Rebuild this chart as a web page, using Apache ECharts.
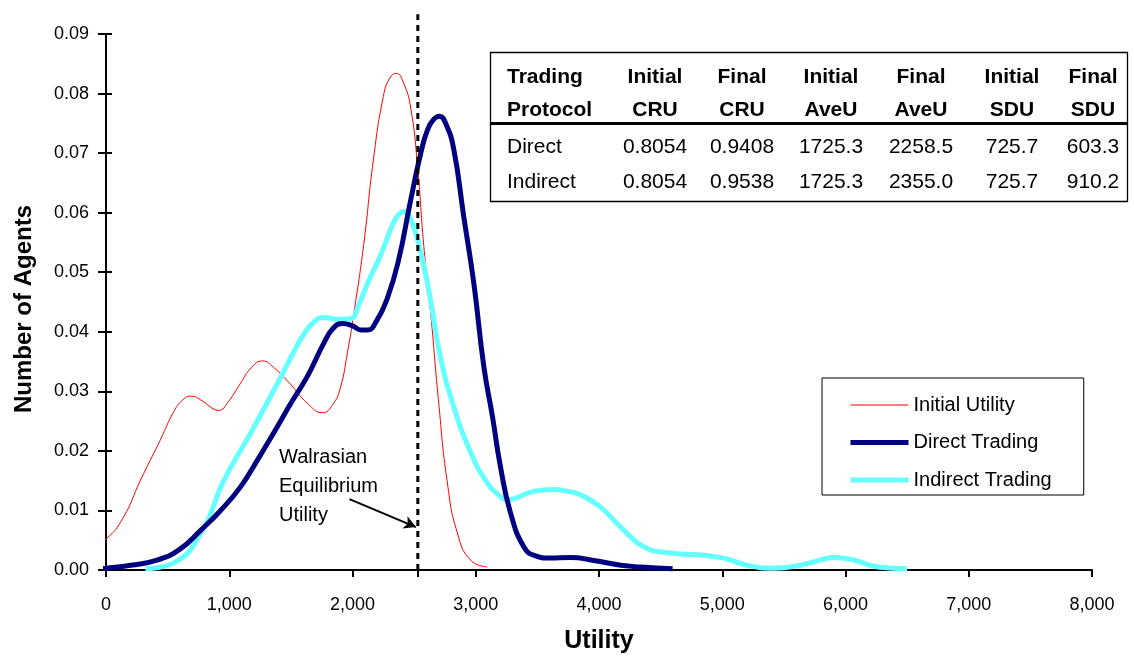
<!DOCTYPE html>
<html>
<head>
<meta charset="utf-8">
<script src="https://cdn.jsdelivr.net/npm/echarts@6/dist/echarts.min.js"></script>
<style>
html,body{margin:0;padding:0;background:#fff;}
#chart{width:1134px;height:656px;}
</style>
</head>
<body>
<div id="chart"></div>
<script>
// ---- Data ----
const initialUtility = [
  [-125,0.0039],[0,0.0052],[140,0.0088],[280,0.0151],[440,0.0218],[550,0.0266],
  [620,0.0285],[690,0.0292],[780,0.0284],[860,0.0272],[915,0.0268],[990,0.0282],[1090,0.0313],
  [1180,0.0340],[1270,0.0351],[1360,0.0340],[1496,0.0312],[1634,0.0280],[1757,0.0264],
  [1840,0.0278],[1900,0.0305],[1959,0.0365],[2010,0.0430],[2090,0.0545],[2170,0.0690],
  [2250,0.0795],[2300,0.0825],[2356,0.0834],[2410,0.0820],[2473,0.0775],
  [2530,0.0672],[2578,0.0545],[2635,0.0430],[2697,0.0286],[2770,0.0146],[2851,0.0062],
  [2956,0.0017],[3094,0.0005]
];
const directTrading = [
  [-60,0.0002],[0,0.0003],[200,0.0008],[421,0.0017],[600,0.0035],[770,0.0067],
  [930,0.0100],[1093,0.0140],[1230,0.0185],[1360,0.0230],[1500,0.0280],[1636,0.0326],
  [1760,0.0378],[1840,0.0405],[1920,0.0414],[2000,0.0410],[2070,0.0403],[2124,0.0403],
  [2200,0.0420],[2280,0.0455],[2368,0.0515],[2473,0.0622],[2554,0.0700],[2610,0.0740],
  [2660,0.0757],[2706,0.0762],[2760,0.0748],[2822,0.0706],[2903,0.0593],
  [2984,0.0482],[3066,0.0341],[3136,0.0257],[3201,0.0173],[3282,0.0096],[3390,0.0039],
  [3480,0.0024],[3600,0.0020],[3771,0.0021],[3957,0.0016],[4176,0.0008],[4339,0.0005],[4597,0.0002]
];
const indirectTrading = [
  [320,0.0002],[550,0.0012],[770,0.0062],[955,0.0150],[1174,0.0230],[1393,0.0314],
  [1520,0.0365],[1603,0.0395],[1690,0.0417],[1765,0.0424],[1880,0.0421],[1984,0.0422],
  [2050,0.0445],[2130,0.0485],[2227,0.0528],[2332,0.0583],[2380,0.0598],[2420,0.0602],
  [2470,0.0590],[2520,0.0560],[2570,0.0520],[2632,0.0454],[2713,0.0358],
  [2822,0.0274],[2960,0.0197],[3094,0.0146],[3180,0.0127],[3256,0.0118],[3330,0.0121],[3418,0.0129],
  [3530,0.0134],[3633,0.0135],[3750,0.0132],[3852,0.0126],[4010,0.0106],[4176,0.0072],
  [4363,0.0039],[4557,0.0029],[4825,0.0025],[5011,0.0020],[5200,0.0008],[5418,0.0003],
  [5637,0.0008],[5800,0.0017],[5904,0.0021],[6066,0.0017],[6260,0.0005],[6500,0.0002]
];
const walrasianUtility = 2530;
const walrasianTop = 0.0933;
const arrowFrom = [1975, 0.0119];
const arrowTo = [2515, 0.0072];
const xTicks = [0,1000,2000,3000,4000,5000,6000,7000,8000];
const seriesNames = ['Initial Utility','Direct Trading','Indirect Trading'];

const tableHeader1 = ['Trading','Initial','Final','Initial','Final','Initial','Final'];
const tableHeader2 = ['Protocol','CRU','CRU','AveU','AveU','SDU','SDU'];
const tableRows = [
  ['Direct','0.8054','0.9408','1725.3','2258.5','725.7','603.3'],
  ['Indirect','0.8054','0.9538','1725.3','2355.0','725.7','910.2']
];

// ---- Layout / styles ----
const FONT = '"Liberation Sans", Arial, sans-serif';
const colX = [507, 655, 742, 831, 921, 1012, 1093];
const rowY = [77, 110, 147, 182];
const seriesColors = ['#ff0000', '#000080', '#66ffff'];
const seriesWidths = [1, 5, 5];

const chart = echarts.init(document.getElementById('chart'));

const tableGraphics = [];
tableGraphics.push({type:'rect', shape:{x:490.5,y:52.5,width:637,height:149}, style:{fill:'#fff', stroke:'#000', lineWidth:1.3}, z:10});
tableGraphics.push({type:'line', shape:{x1:490,y1:123.5,x2:1127,y2:123.5}, style:{stroke:'#000', lineWidth:3}, z:11});
function addRow(cells, y, bold){
  cells.forEach((t,i)=>{
    tableGraphics.push({type:'text', z:12, style:{
      text:t, x: colX[i], y: y,
      textAlign: i===0 ? 'left' : 'center', textVerticalAlign:'middle',
      font: (bold?'bold ':'') + '21px ' + FONT, fill:'#000'
    }});
  });
}
addRow(tableHeader1, rowY[0], true);
addRow(tableHeader2, rowY[1], true);
addRow(tableRows[0], rowY[2], false);
addRow(tableRows[1], rowY[3], false);

const option = {
  animation:false,
  backgroundColor:'#fff',
  grid:{left:106, right:42, top:34, bottom:86, containLabel:false, outerBoundsMode:'none'},
  legend:{
    data: seriesNames.map((n,i)=>({name:n, lineStyle:{width:seriesWidths[i], color:seriesColors[i]}})),
    orient:'vertical', left:822, top:378,
    backgroundColor:'#fff', borderColor:'#000', borderWidth:1,
    padding:[17,32,5,26], itemGap:17.5, itemWidth:58, itemHeight:14,
    itemStyle:{opacity:0, borderWidth:0},
    textStyle:{fontSize:20, fontFamily:FONT, color:'#000'}
  },
  xAxis:{
    type:'value', min:0, max:8000, interval:1000,
    name:'Utility', nameLocation:'middle', nameGap:59,
    nameTextStyle:{fontSize:25, fontWeight:'bold', fontFamily:FONT, color:'#000'},
    axisLine:{show:true, onZero:false, lineStyle:{color:'#000', width:2}},
    axisTick:{show:true, length:7, lineStyle:{color:'#000', width:2}, customValues: xTicks.concat([walrasianUtility])},
    axisLabel:{fontSize:18, fontFamily:FONT, color:'#000', margin:26,
      formatter: v => v.toLocaleString('en-US')},
    splitLine:{show:false}
  },
  yAxis:[{
    type:'value', min:0, max:0.09, interval:0.01,
    name:'Number of Agents', nameLocation:'middle', nameGap:70, nameRotate:90,
    nameTextStyle:{fontSize:24, fontWeight:'bold', fontFamily:FONT, color:'#000', padding:[0,14,0,0]},
    axisLine:{show:true, lineStyle:{color:'#000', width:2}},
    axisTick:{show:true, length:8, lineStyle:{color:'#000', width:2}},
    axisLabel:{fontSize:18, fontFamily:FONT, color:'#000', margin:17, formatter: v => v.toFixed(2)},
    splitLine:{show:false}
  },{
    type:'value', min:0, max:0.09, interval:0.01, position:'left',
    axisLine:{show:false},
    axisTick:{show:true, inside:true, length:6, lineStyle:{color:'#000', width:2}},
    axisLabel:{show:false}, splitLine:{show:false}
  }],
  series:[
    {name:seriesNames[0], type:'line', data:initialUtility, smooth:0.5, symbol:'none', clip:false,
     lineStyle:{color:seriesColors[0], width:seriesWidths[0]}, itemStyle:{color:seriesColors[0]}, z:2},
    {name:seriesNames[2], type:'line', data:indirectTrading, smooth:0.5, symbol:'none', clip:false,
     lineStyle:{color:seriesColors[2], width:seriesWidths[2]}, itemStyle:{color:seriesColors[2]}, z:3},
    {name:seriesNames[1], type:'line', data:directTrading, smooth:0.5, symbol:'none', clip:false,
     lineStyle:{color:seriesColors[1], width:seriesWidths[1]}, itemStyle:{color:seriesColors[1]}, z:4},
    {name:'Walrasian', type:'line', data:[[walrasianUtility,0],[walrasianUtility,walrasianTop]],
     symbol:'none', clip:false, silent:true, z:5,
     lineStyle:{color:'#000', width:3, type:[6,5]},
     markLine:{silent:true, symbol:['none','arrow'], symbolSize:[10,12],
       label:{show:false},
       lineStyle:{color:'#000', width:2, type:'solid'},
       data:[[{coord:arrowFrom},{coord:arrowTo}]]}
    }
  ],
  graphic: tableGraphics.concat([
    {type:'text', left:279, top:443, z:12, style:{
      text:'Walrasian\nEquilibrium\nUtility', font:'20px ' + FONT, fill:'#000', lineHeight:29}}
  ])
};
chart.setOption(option);
</script>
</body>
</html>
